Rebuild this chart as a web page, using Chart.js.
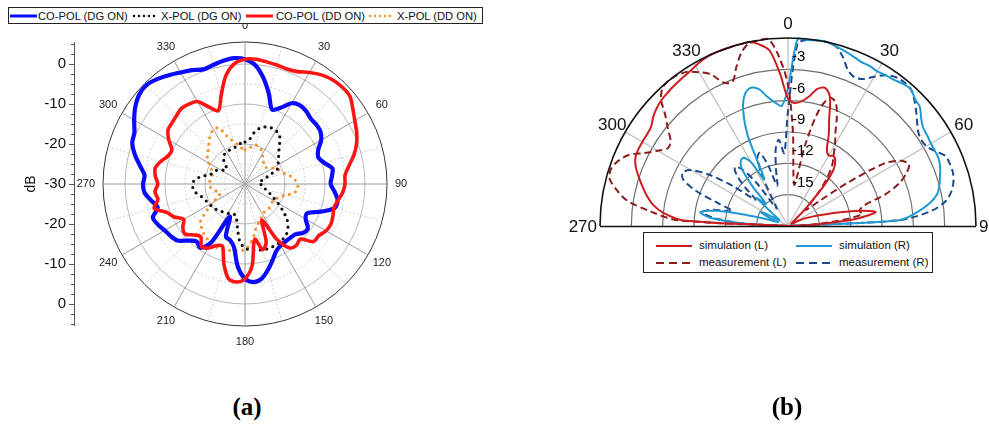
<!DOCTYPE html>
<html>
<head>
<meta charset="utf-8">
<script src="https://cdn.jsdelivr.net/npm/chart.js@4.4.1/dist/chart.umd.min.js"></script>
<style>
  html, body { margin: 0; padding: 0; background: #fff; }
  #page { position: relative; width: 989px; height: 425px; overflow: hidden; font-family: "Liberation Sans", Arial, sans-serif; }
  canvas { position: absolute; }
  #ca { left: 0; top: 0; }
  #cb { left: 495px; top: 0; }
  .legend { position: absolute; background: #fff; border: 1px solid #222; box-sizing: border-box; }
  .legend svg { position: absolute; overflow: visible; }
  .legend span { position: absolute; white-space: nowrap; color: #111; }
  #legA { left: 8px; top: 7px; width: 475px; height: 17px; font-size: 11.2px; }
  #legA span { top: 1px; line-height: 14px; }
  #legB { left: 643px; top: 232px; width: 290px; height: 41px; font-size: 11.5px; }
  #legB span { line-height: 14px; }
  .cap { position: absolute; top: 393px; font-family: "Liberation Serif", "Times New Roman", serif; font-weight: bold; font-size: 25px; width: 80px; text-align: center; color: #000; }
</style>
</head>
<body>
<div id="page">
  <canvas id="ca" width="495" height="360"></canvas>
  <canvas id="cb" width="494" height="425"></canvas>

  <div id="legA" class="legend">
    <svg style="left:1px;top:7px" width="27" height="2"><line x1="0" y1="1" x2="27" y2="1" stroke="#0a0aff" stroke-width="3"/></svg>
    <span style="left:29px">CO-POL (DG ON)</span>
    <svg style="left:124px;top:7px" width="26" height="2"><line x1="1" y1="1" x2="26" y2="1" stroke="#111" stroke-width="2.6" stroke-linecap="round" stroke-dasharray="0 5"/></svg>
    <span style="left:152px">X-POL (DG ON)</span>
    <svg style="left:237px;top:7px" width="27" height="2"><line x1="0" y1="1" x2="27" y2="1" stroke="#ff1414" stroke-width="3"/></svg>
    <span style="left:267px">CO-POL (DD ON)</span>
    <svg style="left:360px;top:7px" width="26" height="2"><line x1="1" y1="1" x2="26" y2="1" stroke="#f39533" stroke-width="2.6" stroke-linecap="round" stroke-dasharray="0 5"/></svg>
    <span style="left:388px">X-POL (DD ON)</span>
  </div>

  <div id="legB" class="legend">
    <svg style="left:12px;top:12px" width="36" height="2"><line x1="0" y1="1" x2="36" y2="1" stroke="#cc1c1f" stroke-width="2"/></svg>
    <span style="left:55px;top:5px">simulation (L)</span>
    <svg style="left:152px;top:12px" width="36" height="2"><line x1="0" y1="1" x2="36" y2="1" stroke="#1f9ad3" stroke-width="2"/></svg>
    <span style="left:195px;top:5px">simulation (R)</span>
    <svg style="left:12px;top:29px" width="36" height="2"><line x1="0" y1="1" x2="36" y2="1" stroke="#8c1d1d" stroke-width="2" stroke-dasharray="8 5"/></svg>
    <span style="left:55px;top:22px">measurement (L)</span>
    <svg style="left:152px;top:29px" width="36" height="2"><line x1="0" y1="1" x2="36" y2="1" stroke="#1d4a8c" stroke-width="2" stroke-dasharray="8 5"/></svg>
    <span style="left:195px;top:22px">measurement (R)</span>
  </div>

  <div class="cap" style="left:207px">(a)</div>
  <div class="cap" style="left:747px">(b)</div>
</div>

<script>
// ===== (a) radiation pattern, 0°..355° in 5° steps, values in dB =====
const anglesA = Array.from({ length: 72 }, (_, i) => i * 5);

const coPolDG = [
   1.2, -0.2, -3.2, -6.8, -10.2, -9.0, -6.7, -6.0, -6.2, -6.8, -6.8, -7.0,
  -8.0, -9.8, -10.5, -9.5, -7.8, -8.2, -8.6, -7.5, -6.5, -6.8, -9.8, -12.8,
  -12.5, -10.8, -11.0, -12.2, -12.4, -12.4, -12.2, -11.5, -9.8, -7.8, -6.0, -5.4,
  -6.3, -9.3, -14.0, -15.5, -16.0, -21.0, -13.2, -10.5, -11.2, -10.0, -8.0, -7.3,
  -6.8, -6.0, -5.5, -7.4, -6.2, -4.8, -4.5, -4.8, -3.3, -1.5, 0.0, 0.5,
   2.0, 3.5, 4.6, 4.9, 4.2, 3.2, 2.2, 1.4, 0.5, 0.8, 1.3, 1.6
];
const xPolDG = [
  -19.5, -19.0, -17.0, -15.5, -14.8, -14.5, -14.6, -15.0, -16.5, -18.0, -19.0, -20.0,
  -20.3, -21.0, -23.5, -25.0, -26.0, -26.5, -26.0, -26.0, -25.5, -24.5, -23.5, -22.3,
  -20.5, -18.5, -16.3, -14.8, -13.8, -13.3, -13.0, -12.9, -12.8, -13.0, -13.2, -13.4,
  -14.0, -15.5, -19.0, -21.5, -22.0, -22.0, -21.5, -21.2, -21.0, -20.6, -20.3, -20.0,
  -19.8, -19.5, -19.2, -18.5, -17.5, -17.0, -16.8, -17.5, -19.0, -21.0, -21.5, -22.0,
  -23.0, -24.0, -24.0, -23.0, -21.5, -21.0, -21.0, -20.7, -20.5, -20.5, -20.0, -19.7
];
const coPolDD = [
   1.2, 1.3, 1.0, 0.8, 0.6, 1.0, 2.2, 3.3, 4.0, 4.3, 4.2, 2.9,
   1.7, 0.8, -0.3, -1.8, -3.6, -4.9, -5.0, -5.5, -6.4, -7.0, -6.6, -6.3,
  -6.6, -7.5, -7.6, -10.5, -10.0, -10.5, -14.0, -20.0, -14.5, -13.0, -16.0, -9.5,
  -6.3, -5.4, -6.0, -9.5, -13.5, -13.0, -11.5, -11.0, -12.8, -12.0, -10.5, -11.0,
  -12.3, -10.5, -9.2, -6.5, -7.9, -7.4, -8.2, -7.5, -7.2, -8.2, -9.5, -9.8,
  -8.0, -6.5, -6.2, -5.8, -5.3, -5.6, -6.2, -8.8, -10.5, -7.0, -2.5, 0.2
];
const xPolDD = [
  -21.5, -21.3, -20.5, -19.9, -20.0, -20.5, -21.5, -22.0, -22.8, -23.3, -23.5, -22.8,
  -22.0, -21.2, -20.5, -19.8, -18.5, -17.5, -17.0, -16.7, -17.5, -19.2, -20.7, -21.3,
  -21.8, -21.8, -21.6, -21.5, -21.5, -21.5, -21.3, -20.5, -19.8, -19.0, -17.0, -15.0,
  -13.5, -13.4, -13.1, -12.9, -12.7, -12.7, -13.0, -13.4, -13.9, -14.6, -15.5, -18.3,
  -20.8, -22.5, -23.4, -22.8, -22.0, -21.3, -21.0, -21.2, -21.4, -21.5, -21.5, -20.5,
  -19.5, -18.5, -17.8, -17.2, -16.0, -15.0, -14.2, -14.6, -17.5, -19.0, -20.0, -21.0
];
const angleTicksA = [0, 30, 60, 90, 120, 150, 180, 210, 240, 270, 300, 330];
const dbTicksA = [0, -10, -20, -30];

// ===== (b) half-plane pattern, -90°..90° in 3° steps, values in dB =====
const anglesB = Array.from({ length: 61 }, (_, i) => -90 + i * 3);

const simL = [
  -18, -8.0, -6.0, -4.9, -4.2, -3.6, -3.0, -2.4, -2.0, -1.9, -1.9, -1.9,
  -1.8, -1.4, -1.1, -0.9, -0.8, -0.7, -0.6, -0.5, -0.3, -0.1, 0, 0,
  0, 0, 0, -0.4, -1.1, -3.4, -5.8, -6.2, -6.0, -5.5, -4.6, -4.3,
  -5.0, -7.0, -8.4, -9.8, -10.2, -10.0, -10.3, -11.1, -13.0, -15.5, -17.0, -17.5,
  -17.6, -17.6, -17.5, -17.0, -16.2, -15.5, -14.5, -13.0, -11.0, -9.5, -11.5, -15.5,
  -18
];
const measL = [
  -18, -7.4, -4.8, -2.4, -1.2, -0.3, -0.2, -0.6, -1.3, -2.6, -3.6, -4.3,
  -4.1, -3.2, -2.2, -0.8, -0.1, 0, -0.1, -0.4, -1.0, -1.7, -3.0, -3.2,
  -2.0, -0.8, -0.1, 0, 0, -1.8, -4.5, -9.0, -13.0, -14.0, -10.0, -6.5,
  -5.1, -5.3, -6.5, -8.0, -9.0, -10.0, -10.8, -12.0, -13.5, -15.0, -15.7, -14.5,
  -11.0, -7.0, -5.5, -5.0, -5.6, -6.6, -8.2, -10.5, -11.0, -10.8, -13.0, -16.0,
  -18
];
const simR = [
  -18, -14.0, -10.5, -9.5, -11.0, -14.0, -16.0, -17.0, -16.0, -15.0, -16.0, -17.0,
  -17.0, -16.0, -14.0, -15.0, -13.0, -11.0, -10.3, -10.2, -11.0, -13.0, -8.5, -6.0,
  -4.7, -4.3, -4.6, -5.5, -6.1, -6.5, -4.8, 0, -0.1, 0, 0, -0.2,
  -0.4, -0.6, -0.8, -0.8, -0.9, -0.8, -0.7, -0.5, -0.4, -0.8, -1.0, -1.6,
  -2.0, -2.1, -2.2, -2.2, -2.2, -2.4, -2.7, -3.0, -3.4, -4.3, -5.6, -7.3,
  -18
];
const measR = [
  -18, -14.0, -11.0, -9.7, -10.5, -12.5, -11.0, -8.5, -7.0, -6.7, -7.3, -9.0,
  -11.5, -14.0, -12.5, -11.0, -10.4, -11.0, -13.0, -16.0, -15.0, -12.5, -10.8, -10.5,
  -12.0, -14.0, -12.5, -10.5, -9.7, -11.0, -7.0, -0.5, -0.1, 0, 0, -0.2,
  -1.0, -2.0, -2.4, -2.2, -1.5, -0.8, -0.4, -0.3, -0.4, -0.9, -1.5, -2.1,
  -2.6, -2.8, -2.7, -2.2, -1.5, -1.4, -1.4, -1.6, -2.0, -2.7, -4.2, -7.3,
  -18
];
const angleTicksB = [270, 300, 330, 0, 30, 60, 90];
const ringTicksB = [-3, -6, -9, -12, -15];

const FONT = '"Liberation Sans", Arial, sans-serif';

// ---------- chart (a) ----------
const labelsA = anglesA.map(String);

const axisA = {
  id: 'axisA',
  afterDraw(chart) {
    const s = chart.scales.r, ctx = chart.ctx;
    const yUp = v => s.yCenter - s.getDistanceFromCenterForValue(v);
    const yDn = v => s.yCenter + s.getDistanceFromCenterForValue(v);
    ctx.save();
    // angle labels round the rim
    ctx.fillStyle = '#222';
    ctx.font = '11px ' + FONT;
    ctx.textBaseline = 'middle';
    angleTicksA.forEach(a => {
      const idx = anglesA.indexOf(a);
      let p;
      if (a === 90) { ctx.textAlign = 'left'; p = s.getPointPosition(idx, s.drawingArea + 8); }
      else if (a === 270) { ctx.textAlign = 'right'; p = s.getPointPosition(idx, s.drawingArea + 8); }
      else { ctx.textAlign = 'center'; p = s.getPointPosition(idx, s.drawingArea + 16); }
      ctx.fillText(String(a), p.x, p.y);
    });
    // vertical dB axis on the left
    const ax = 74;
    ctx.strokeStyle = '#555';
    ctx.lineWidth = 1;
    ctx.beginPath();
    ctx.moveTo(ax + 0.5, yUp(s.max));
    ctx.lineTo(ax + 0.5, yDn(s.max));
    ctx.stroke();
    for (let v = -30; v <= 5; v += 2.5) {
      const major = v % 10 === 0;
      const len = major ? 5 : 3;
      [yUp(v), yDn(v)].forEach(y => {
        ctx.beginPath();
        ctx.moveTo(ax - len, Math.round(y) + 0.5);
        ctx.lineTo(ax, Math.round(y) + 0.5);
        ctx.stroke();
      });
    }
    ctx.fillStyle = '#111';
    ctx.font = '15px ' + FONT;
    ctx.textAlign = 'right';
    dbTicksA.forEach(v => {
      ctx.fillText(String(v), ax - 8, yUp(v));
      if (v !== -30) ctx.fillText(String(v), ax - 8, yDn(v));
    });
    ctx.translate(31, s.yCenter);
    ctx.rotate(-Math.PI / 2);
    ctx.textAlign = 'center';
    ctx.font = '14px ' + FONT;
    ctx.fillText('dB', 0, 0);
    ctx.restore();
  }
};

const lineBase = { fill: false, pointRadius: 0, pointHoverRadius: 0, borderJoinStyle: 'round' };

new Chart(document.getElementById('ca'), {
  type: 'radar',
  data: {
    labels: labelsA,
    datasets: [
      Object.assign({ label: 'CO-POL (DD ON)', data: coPolDD, borderColor: '#ff1414', borderWidth: 3.6, tension: 0.3 }, lineBase),
      Object.assign({ label: 'CO-POL (DG ON)', data: coPolDG, borderColor: '#0a0aff', borderWidth: 4.2, tension: 0.3 }, lineBase),
      Object.assign({ label: 'X-POL (DG ON)', data: xPolDG, borderColor: '#111', borderWidth: 3.2, borderDash: [0, 6.5], borderCapStyle: 'round', tension: 0.3 }, lineBase),
      Object.assign({ label: 'X-POL (DD ON)', data: xPolDD, borderColor: '#f39533', borderWidth: 3.2, borderDash: [0, 6.5], borderCapStyle: 'round', tension: 0.3 }, lineBase)
    ]
  },
  options: {
    responsive: false,
    animation: false,
    devicePixelRatio: 1,
    layout: { padding: { left: 103, top: 42, right: 108, bottom: 34 } },
    plugins: { legend: { display: false }, tooltip: { enabled: false } },
    scales: {
      r: {
        min: -30, max: 5.5,
        ticks: { display: false, stepSize: 5 },
        pointLabels: { display: false },
        grid: {
          circular: true,
          color: c => c.tick.value >= 5.5 ? '#333' : (c.tick.value % 10 === 0 ? '#b5b5b5' : '#cfcfcf'),
          lineWidth: c => (c.tick.value === 5 ? 0 : 1)
        },
        border: { dash: c => (c.tick && c.tick.value < 5.5 && c.tick.value % 10 !== 0 ? [2, 2] : []) },
        angleLines: {
          color: c => (c.index % 6 === 0 ? '#9a9a9a' : '#cfcfcf'),
          lineWidth: c => (c.index % 3 === 0 ? 1 : 0),
          borderDash: c => (c.index % 6 === 0 ? [] : [2, 2])
        }
      }
    }
  },
  plugins: [axisA]
});

// ---------- chart (b) ----------
const labelsB = Array.from({ length: 120 }, (_, i) => i * 3);
// place a -90..90 series on the full circle; the lower half stays empty
const spread = vals => labelsB.map(a => {
  const s = a <= 90 ? a : a - 360;
  return s < -90 ? null : vals[anglesB.indexOf(s)];
});

const halfB = {
  id: 'halfB',
  beforeDraw(chart) {
    const s = chart.scales.r, ctx = chart.ctx;
    ctx.save();
    ctx.beginPath();
    ctx.rect(0, 0, chart.width, s.yCenter + 0.5);
    ctx.clip();
  },
  afterDraw(chart) {
    const s = chart.scales.r, ctx = chart.ctx;
    ctx.restore();
    ctx.save();
    // outer rim and base line
    ctx.strokeStyle = '#111';
    ctx.lineWidth = 1.6;
    ctx.beginPath();
    ctx.arc(s.xCenter, s.yCenter, s.drawingArea, Math.PI, 2 * Math.PI);
    ctx.stroke();
    ctx.lineWidth = 1.4;
    ctx.beginPath();
    ctx.moveTo(s.xCenter - s.drawingArea, s.yCenter + 0.5);
    ctx.lineTo(s.xCenter + s.drawingArea, s.yCenter + 0.5);
    ctx.stroke();
    // angle labels
    ctx.fillStyle = '#111';
    ctx.font = '17px ' + FONT;
    ctx.textBaseline = 'middle';
    angleTicksB.forEach(a => {
      const idx = labelsB.indexOf(a);
      let p;
      if (a === 90) { ctx.textAlign = 'left'; p = s.getPointPosition(idx, s.drawingArea + 3); }
      else if (a === 270) { ctx.textAlign = 'right'; p = s.getPointPosition(idx, s.drawingArea + 3); }
      else { ctx.textAlign = 'center'; p = s.getPointPosition(idx, s.drawingArea + 15); }
      ctx.fillText(String(a), p.x, p.y + 1);
    });
    // ring values along the 0° line
    ctx.font = '15px ' + FONT;
    ctx.textAlign = 'left';
    ctx.fillStyle = '#000';
    ringTicksB.forEach(v => {
      const y = s.yCenter - s.getDistanceFromCenterForValue(v + 1.15);
      ctx.fillText(String(v), s.xCenter + 4, y);
    });
    ctx.restore();
  }
};

const dashB = [7, 4];
new Chart(document.getElementById('cb'), {
  type: 'radar',
  data: {
    labels: labelsB,
    datasets: [
      Object.assign({ label: 'simulation (L)', data: spread(simL), borderColor: '#cc1c1f', borderWidth: 2, tension: 0.3 }, lineBase),
      Object.assign({ label: 'measurement (L)', data: spread(measL), borderColor: '#8c1d1d', borderWidth: 2, borderDash: dashB, tension: 0.3 }, lineBase),
      Object.assign({ label: 'simulation (R)', data: spread(simR), borderColor: '#1f9ad3', borderWidth: 2, tension: 0.3 }, lineBase),
      Object.assign({ label: 'measurement (R)', data: spread(measR), borderColor: '#1d4a8c', borderWidth: 2, borderDash: dashB, tension: 0.3 }, lineBase)
    ]
  },
  options: {
    responsive: false,
    animation: false,
    devicePixelRatio: 1,
    spanGaps: false,
    layout: { padding: { left: 105, top: 38, right: 13, bottom: 11 } },
    plugins: { legend: { display: false }, tooltip: { enabled: false } },
    scales: {
      r: {
        min: -18, max: 0,
        ticks: { display: false, stepSize: 3 },
        pointLabels: { display: false },
        grid: {
          circular: true,
          color: c => (c.tick.value === 0 ? 'rgba(0,0,0,0)' : '#6f6f6f'),
          lineWidth: 1.2
        },
        angleLines: {
          color: '#bcbcbc',
          lineWidth: c => (c.index % 10 === 0 && c.index !== 30 && c.index !== 90 ? 1.2 : 0)
        }
      }
    }
  },
  plugins: [halfB]
});
</script>
</body>
</html>
